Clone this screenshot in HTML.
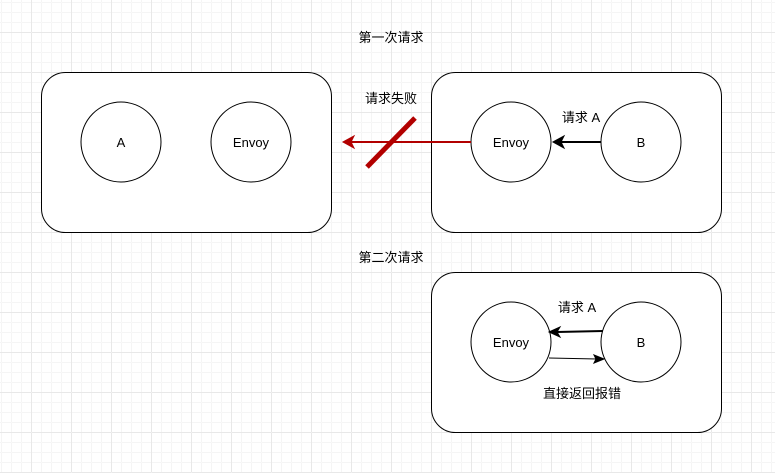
<!DOCTYPE html>
<html><head><meta charset="utf-8"><style>
html,body{margin:0;padding:0;background:#fff;}
svg{display:block;}
text{font-family:"Liberation Sans","Noto Sans CJK SC",sans-serif;font-size:13px;fill:#000;}
</style></head><body>
<svg width="775" height="473" viewBox="0 0 775 473" xmlns="http://www.w3.org/2000/svg">
<defs>
<pattern id="minor" width="10" height="10" patternUnits="userSpaceOnUse" x="1" y="2">
<path d="M0 0H10M0 0V10" stroke="#f5f5f5" stroke-width="1" fill="none" transform="translate(0.5,0.5)"/>
</pattern>
<pattern id="major" width="40" height="40" patternUnits="userSpaceOnUse" x="31" y="32">
<path d="M0 0H40M0 0V40" stroke="#e8e8e8" stroke-width="1" fill="none" transform="translate(0.5,0.5)"/>
</pattern>
</defs>
<rect width="775" height="473" fill="#fff"/>
<rect width="775" height="473" fill="url(#minor)"/>
<rect width="775" height="473" fill="url(#major)"/>

<g fill="#fff" stroke="#000" stroke-width="1">
<rect x="41.5" y="72.5" width="290" height="160" rx="24"/>
<rect x="431.5" y="72.5" width="290" height="160" rx="24"/>
<rect x="431.5" y="272.5" width="290" height="160" rx="24"/>
<circle cx="121" cy="142" r="40"/>
<circle cx="251" cy="142" r="40"/>
<circle cx="511" cy="142" r="40"/>
<circle cx="641" cy="142" r="40"/>
<circle cx="511" cy="342" r="40"/>
<circle cx="641" cy="342" r="40"/>
</g>

<text x="121" y="147" text-anchor="middle">A</text>
<text x="251" y="147" text-anchor="middle">Envoy</text>
<text x="511" y="147" text-anchor="middle">Envoy</text>
<text x="641" y="147" text-anchor="middle">B</text>
<text x="511" y="347" text-anchor="middle">Envoy</text>
<text x="641" y="347" text-anchor="middle">B</text>

<text x="391" y="42" text-anchor="middle">第一次请求</text>
<text x="391" y="103" text-anchor="middle">请求失败</text>
<text x="581" y="122" text-anchor="middle">请求 A</text>
<text x="391" y="262" text-anchor="middle">第二次请求</text>
<text x="577" y="312" text-anchor="middle">请求 A</text>
<text x="582" y="398" text-anchor="middle">直接返回报错</text>

<line x1="471" y1="142" x2="350" y2="142" stroke="#b20000" stroke-width="2"/>
<path d="M343 142 L354 136 L351 142 L354 148 Z" fill="#b20000" stroke="#b20000"/>
<line x1="415" y1="118" x2="367" y2="167" stroke="#b20000" stroke-width="5"/>

<line x1="601" y1="142" x2="560" y2="142" stroke="#000" stroke-width="2"/>
<path d="M553 142 L564 136 L561 142 L564 148 Z" fill="#000" stroke="#000"/>

<line x1="603" y1="331" x2="557" y2="332" stroke="#000" stroke-width="2"/>
<path d="M549 332 L560 327 L557 332 L560 337 Z" fill="#000" stroke="#000"/>
<line x1="549" y1="358" x2="597" y2="359" stroke="#000" stroke-width="1"/>
<path d="M604 359 L594 355 L596 359 L594 363 Z" fill="#000" stroke="#000"/>
</svg>
</body></html>
